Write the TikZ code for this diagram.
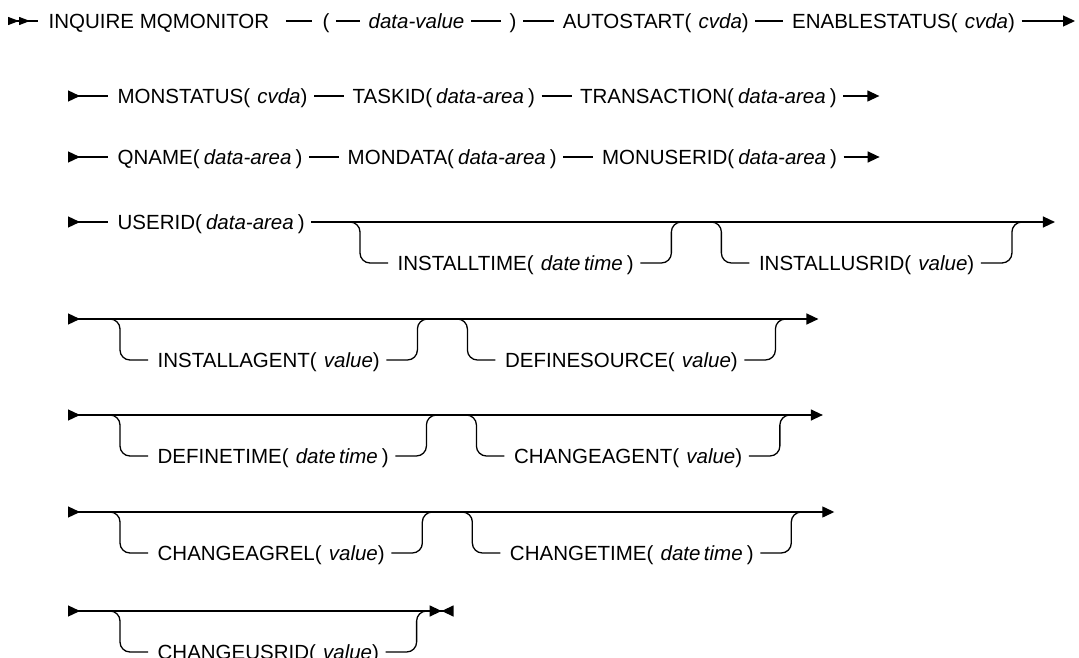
\documentclass[tikz,border=0pt]{standalone}
\usepackage{fontspec}
\setmainfont{Liberation Sans}
\usetikzlibrary{positioning,arrows.meta}
\newcommand{\prm}[1]{\textit{#1}}
\newcommand{\wide}{\hspace{0.35em}}
\newcommand{\thin}{\hspace{0.2em}}

\begin{document}
\begin{tikzpicture}[x=1pt,y=-1pt,line width=1.3pt,node distance=44pt,
  kw/.style={inner sep=0pt,text height=14.5pt,text depth=0pt,font=\fontsize{20.5}{25}\selectfont},
  seq/.style={shorten <=6pt,shorten >=8pt},
  entry/.style={{Triangle[reversed,length=12pt,width=11pt]}-},
  firstentry/.style={{Triangle[reversed,length=11pt,width=8pt]Triangle[reversed,length=11pt,width=8pt]}-},
  goon/.style={-{Triangle[length=12pt,width=11pt]}},
  through/.style={{Triangle[reversed,length=12pt,width=11pt]}-{Triangle[length=12pt,width=11pt]}},
  endall/.style={{Triangle[reversed,length=12pt,width=11pt]}-{Triangle[length=12pt,width=11pt]Triangle[reversed,length=12pt,width=11pt]}},
  opt/.style={rounded corners=10pt}]
  \useasboundingbox (0,0) rectangle (1079,658);
  % row 1
  \coordinate (s1) at (8,21);
  \node[kw,anchor=west] (inq) at (48,21) {INQUIRE MQMONITOR};
  \node[kw,right=52pt of inq] (lpar) {(};
  \node[kw,right=38pt of lpar] (dval) {\prm{data-value}};
  \node[kw,right=44pt of dval] (rpar) {)};
  \node[kw,right=45pt of rpar] (auto) {AUTOSTART(\wide\prm{cvda})};
  \node[kw,right=42pt of auto] (enab) {ENABLESTATUS(\wide\prm{cvda})};
  \coordinate (e1) at (1075,21);
  \draw[firstentry] (s1) -- ([xshift=-10pt]inq.west);
  \draw[shorten <=16pt,shorten >=10pt] (inq.east) -- (lpar.west);
  \draw[seq] (lpar.east) -- (dval.west);
  \draw[seq] (dval.east) -- (rpar.west);
  \draw[seq] (rpar.east) -- (auto.west);
  \draw[seq] (auto.east) -- (enab.west);
  \draw[goon,shorten <=6pt] (enab.east) -- (e1);
  % row 2
  \coordinate (s2) at (68,96);
  \node[kw,anchor=west] (mst) at (117,96) {MONSTATUS(\wide\prm{cvda})};
  \node[kw,right=of mst] (tsk) {TASKID(\thin\prm{data-area}\thin)};
  \node[kw,right=of tsk] (trn) {TRANSACTION(\thin\prm{data-area}\thin)};
  \coordinate[right=42pt of trn] (e2);
  \draw[entry] (s2) -- ([xshift=-9pt]mst.west);
  \draw[seq] (mst.east) -- (tsk.west);
  \draw[seq] (tsk.east) -- (trn.west);
  \draw[goon,shorten <=6pt] (trn.east) -- (e2);
  % row 3
  \coordinate (s3) at (68,157);
  \node[kw,anchor=west] (qnm) at (117,157) {QNAME(\thin\prm{data-area}\thin)};
  \node[kw,right=of qnm] (mdt) {MONDATA(\thin\prm{data-area}\thin)};
  \node[kw,right=of mdt] (mus) {MONUSERID(\thin\prm{data-area}\thin)};
  \coordinate[right=42pt of mus] (e3);
  \draw[entry] (s3) -- ([xshift=-9pt]qnm.west);
  \draw[seq] (qnm.east) -- (mdt.west);
  \draw[seq] (mdt.east) -- (mus.west);
  \draw[goon,shorten <=6pt] (mus.east) -- (e3);
  % row 4
  \coordinate (s4) at (68,222);
  \node[kw,anchor=west] (usr) at (117,222) {USERID(\thin\prm{data-area}\thin)};
  \node[kw,anchor=west] (itime) at (397,263) {INSTALLTIME(\wide\prm{date\,time}\thin)};
  \node[kw,right=124pt of itime] (iusr) {INSTALLUSRID(\wide\prm{value})};
  \coordinate (e4) at ([xshift=80pt]iusr.east |- s4);
  \draw[entry] (s4) -- ([xshift=-9pt]usr.west);
  \draw[goon,shorten <=6pt] (usr.east) -- (e4);
  \draw[opt] ([xshift=-47pt]itime.west |- s4) -- ++(10,0) |- ([xshift=-9pt]itime.west);
  \draw[opt] ([xshift=6pt]itime.east) -| ([xshift=37pt]itime.east |- s4) -- ++(10,0);
  \draw[opt] ([xshift=-47pt]iusr.west |- s4) -- ++(10,0) |- ([xshift=-9pt]iusr.west);
  \draw[opt] ([xshift=6pt]iusr.east) -| ([xshift=37pt]iusr.east |- s4) -- ++(10,0);
  % row 5
  \coordinate (s5) at (68,319);
  \node[kw,anchor=west] (iagt) at (157,360) {INSTALLAGENT(\wide\prm{value})};
  \node[kw,right=124pt of iagt] (dsrc) {DEFINESOURCE(\wide\prm{value})};
  \coordinate (e5) at ([xshift=80pt]dsrc.east |- s5);
  \draw[through] (s5) -- (e5);
  \draw[opt] ([xshift=-47pt]iagt.west |- s5) -- ++(10,0) |- ([xshift=-9pt]iagt.west);
  \draw[opt] ([xshift=6pt]iagt.east) -| ([xshift=37pt]iagt.east |- s5) -- ++(10,0);
  \draw[opt] ([xshift=-47pt]dsrc.west |- s5) -- ++(10,0) |- ([xshift=-9pt]dsrc.west);
  \draw[opt] ([xshift=6pt]dsrc.east) -| ([xshift=37pt]dsrc.east |- s5) -- ++(10,0);
  % row 6
  \coordinate (s6) at (68,415);
  \node[kw,anchor=west] (dtime) at (157,456) {DEFINETIME(\wide\prm{date\,time}\thin)};
  \node[kw,right=124pt of dtime] (cagt) {CHANGEAGENT(\wide\prm{value})};
  \coordinate (e6) at ([xshift=80pt]cagt.east |- s6);
  \draw[through] (s6) -- (e6);
  \draw[opt] ([xshift=-47pt]dtime.west |- s6) -- ++(10,0) |- ([xshift=-9pt]dtime.west);
  \draw[opt] ([xshift=6pt]dtime.east) -| ([xshift=37pt]dtime.east |- s6) -- ++(10,0);
  \draw[opt] ([xshift=-47pt]cagt.west |- s6) -- ++(10,0) |- ([xshift=-9pt]cagt.west);
  \draw[opt] ([xshift=6pt]cagt.east) -| ([xshift=37pt]cagt.east |- s6) -- ++(10,0);
  % row 7
  \coordinate (s7) at (68,512);
  \node[kw,anchor=west] (crel) at (157,553) {CHANGEAGREL(\wide\prm{value})};
  \node[kw,right=124pt of crel] (ctime) {CHANGETIME(\wide\prm{date\,time}\thin)};
  \coordinate (e7) at ([xshift=80pt]ctime.east |- s7);
  \draw[through] (s7) -- (e7);
  \draw[opt] ([xshift=-47pt]crel.west |- s7) -- ++(10,0) |- ([xshift=-9pt]crel.west);
  \draw[opt] ([xshift=6pt]crel.east) -| ([xshift=37pt]crel.east |- s7) -- ++(10,0);
  \draw[opt] ([xshift=-47pt]ctime.west |- s7) -- ++(10,0) |- ([xshift=-9pt]ctime.west);
  \draw[opt] ([xshift=6pt]ctime.east) -| ([xshift=37pt]ctime.east |- s7) -- ++(10,0);
  % row 8
  \coordinate (s8) at (68,611);
  \node[kw,anchor=west] (cusr) at (157,652) {CHANGEUSRID(\wide\prm{value})};
  \coordinate (e8) at ([xshift=74pt]cusr.east |- s8);
  \draw[endall] (s8) -- (e8);
  \draw[opt] ([xshift=-47pt]cusr.west |- s8) -- ++(10,0) |- ([xshift=-9pt]cusr.west);
  \draw[opt] ([xshift=6pt]cusr.east) -| ([xshift=37pt]cusr.east |- s8) -- ++(10,0);
\end{tikzpicture}
\end{document}
